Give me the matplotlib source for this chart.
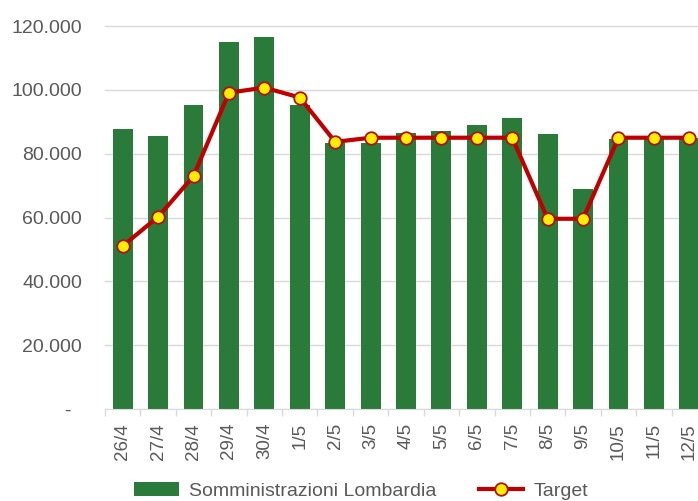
import matplotlib
matplotlib.use("Agg")
import matplotlib.pyplot as plt
from matplotlib.ticker import FuncFormatter, FixedLocator

plt.rcParams['font.family'] = ['Liberation Sans', 'DejaVu Sans']

dates = ["26/4", "27/4", "28/4", "29/4", "30/4", "1/5", "2/5", "3/5", "4/5",
         "5/5", "6/5", "7/5", "8/5", "9/5", "10/5", "11/5", "12/5"]
somministrazioni = [87800, 85600, 95100, 115000, 116400, 95300, 83500, 83400,
                    86500, 87100, 89000, 91100, 86100, 68900, 84500, 85300, 85000]
target = [51100, 60200, 73000, 99100, 100700, 97600, 83700, 85000, 85000,
          85000, 85000, 85000, 59600, 59600, 85000, 85000, 85000]
yticks = [0, 20000, 40000, 60000, 80000, 100000, 120000]

W, H = 698, 501
fig = plt.figure(figsize=(W/100, H/100), dpi=100)
top_px = 26 - 63.8*0.3
ax = fig.add_axes([105/W, (H-409)/H, (707-105)/W, (409-top_px)/H])

x = list(range(len(dates)))
green = '#2a7a39'
red = '#c00000'
bars = ax.bar(x, somministrazioni, width=0.56, color=green, zorder=2,
              label='Somministrazioni Lombardia')
line, = ax.plot(x, target, color=red, lw=3, marker='o', markersize=9,
                markerfacecolor='#ffee00', markeredgecolor='#b01010', markeredgewidth=1.3,
                zorder=3, label='Target')

ax.set_xlim(-0.5, len(dates)-0.5)
ax.set_ylim(0, 126000)
ax.set_yticks(yticks)
ax.yaxis.set_major_formatter(FuncFormatter(
    lambda v, p: '-  ' if v == 0 else f"{int(v):,}".replace(',', '.')))
ax.grid(axis='y', color='#d9d9d9', lw=1, zorder=0)
ax.set_axisbelow(True)

ax.set_xticks(x)
ax.set_xticklabels(dates, rotation=90)
ax.xaxis.set_minor_locator(FixedLocator([i - 0.5 for i in range(len(dates)+1)]))
ax.tick_params(axis='x', which='major', length=0, pad=10, labelsize=13.5, colors='#595959')
ax.tick_params(axis='x', which='minor', length=5, color='#d9d9d9', width=1)
ax.tick_params(axis='y', length=0, pad=16.5, labelsize=14, colors='#595959')

for s in ['top', 'right', 'left']:
    ax.spines[s].set_visible(False)
ax.spines['bottom'].set_color('#d9d9d9')

leg = fig.legend([bars, line], ['Somministrazioni Lombardia', 'Target'],
                 loc='center', bbox_to_anchor=(361/W, (H-491)/H),
                 ncol=2, frameon=False, fontsize=14, handlelength=2.3,
                 columnspacing=2.2, handletextpad=0.5, borderpad=0)
for t in leg.get_texts():
    t.set_color('#595959')

fig.savefig('out.png', dpi=100)
